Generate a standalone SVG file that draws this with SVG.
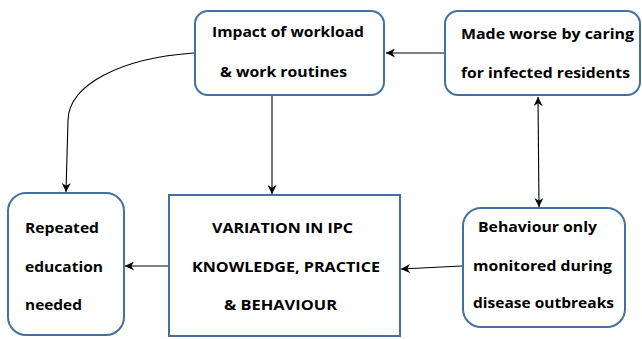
<svg xmlns="http://www.w3.org/2000/svg" width="642" height="339" viewBox="0 0 642 339">
<style>
.box{fill:#fff;stroke:#41719c;stroke-width:2}
.t{font-family:"Open Sans","Liberation Sans",sans-serif;font-weight:bold;font-size:15px;fill:#000}
.c{fill:none;stroke:#000;stroke-width:1.1}
</style>
<defs>
<marker id="ah" viewBox="0 0 10 10" refX="10" refY="5" markerWidth="9" markerHeight="9" markerUnits="userSpaceOnUse" orient="auto-start-reverse">
<path d="M0,0 L10,5 L0,10 L3,5 z" fill="#000"/>
</marker>
</defs>
<rect width="642" height="339" fill="#fff"/>
<g id="connectors">
<path class="c" d="M445,53 L386,53" marker-end="url(#ah)"/>
<path class="c" d="M272,96 L272,194" marker-end="url(#ah)"/>
<path class="c" d="M194,53 C120,58 69,85 68,120 L66,192" marker-end="url(#ah)"/>
<path class="c" d="M538,97 L539,207" marker-start="url(#ah)" marker-end="url(#ah)"/>
<path class="c" d="M462,266 L401,269" marker-end="url(#ah)"/>
<path class="c" d="M168,266 L125,266" marker-end="url(#ah)"/>
</g>
<g id="impact">
<rect class="box" x="195" y="11" width="189" height="84" rx="13"/>
<text class="t" x="212" y="37" textLength="152" lengthAdjust="spacingAndGlyphs">Impact of workload</text>
<text class="t" x="220" y="77" textLength="127" lengthAdjust="spacingAndGlyphs">&amp; work routines</text>
</g>
<g id="madeworse">
<rect class="box" x="445" y="11" width="195" height="84" rx="13"/>
<text class="t" x="461" y="39" textLength="173" lengthAdjust="spacingAndGlyphs">Made worse by caring</text>
<text class="t" x="461" y="78" textLength="169" lengthAdjust="spacingAndGlyphs">for infected residents</text>
</g>
<g id="repeated">
<rect class="box" x="8" y="193" width="116" height="142" rx="18"/>
<text class="t" x="25" y="233" textLength="74" lengthAdjust="spacingAndGlyphs">Repeated</text>
<text class="t" x="25" y="272" textLength="78" lengthAdjust="spacingAndGlyphs">education</text>
<text class="t" x="25" y="310" textLength="57" lengthAdjust="spacingAndGlyphs">needed</text>
</g>
<g id="variation">
<rect class="box" x="169" y="195" width="231" height="141"/>
<text class="t" x="212" y="233" textLength="141" lengthAdjust="spacingAndGlyphs">VARIATION IN IPC</text>
<text class="t" x="192" y="272" textLength="188" lengthAdjust="spacingAndGlyphs">KNOWLEDGE, PRACTICE</text>
<text class="t" x="224" y="310" textLength="113" lengthAdjust="spacingAndGlyphs">&amp; BEHAVIOUR</text>
</g>
<g id="behaviour">
<rect class="box" x="463" y="208" width="162" height="119" rx="18"/>
<text class="t" x="478" y="232" textLength="119" lengthAdjust="spacingAndGlyphs">Behaviour only</text>
<text class="t" x="473" y="271" textLength="139" lengthAdjust="spacingAndGlyphs">monitored during</text>
<text class="t" x="473" y="308" textLength="141" lengthAdjust="spacingAndGlyphs">disease outbreaks</text>
</g>
</svg>
